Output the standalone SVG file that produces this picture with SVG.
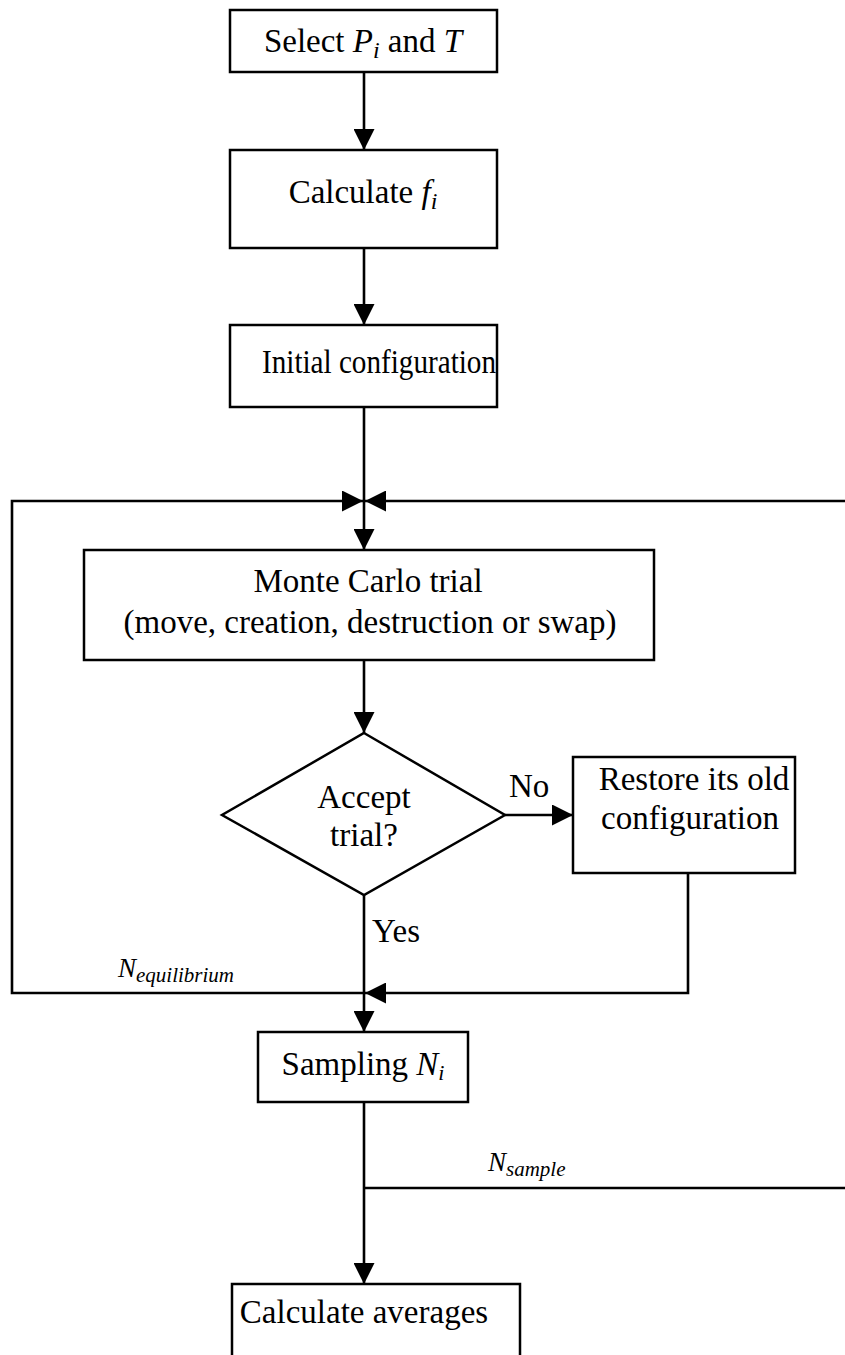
<svg xmlns="http://www.w3.org/2000/svg" width="845" height="1355" viewBox="0 0 845 1355">
<style>
.box{fill:#fff;stroke:#000;stroke-width:2.5}
.ln{fill:none;stroke:#000;stroke-width:2.6}
.t{font-family:"Liberation Serif","Times New Roman",serif;font-size:33px;fill:#000}
.lbl{font-family:"Liberation Serif","Times New Roman",serif;font-size:27px;font-style:italic;fill:#000}
.it{font-style:italic}
</style>
<defs>
<marker id="arr" markerUnits="userSpaceOnUse" markerWidth="21" markerHeight="21" viewBox="0 0 20 20" refX="20" refY="10" orient="auto">
<path d="M0,0 L20,10 L0,20 Z" fill="#000"/>
</marker>
</defs>
<rect width="845" height="1355" fill="#fff"/>
<g id="connectors">
<path class="ln" d="M364,72 V150" marker-end="url(#arr)"/>
<path class="ln" d="M364,248 V325" marker-end="url(#arr)"/>
<path class="ln" d="M364,407 V550" marker-end="url(#arr)"/>
<path class="ln" d="M364,993 H12 V501 H363" marker-end="url(#arr)"/>
<path class="ln" d="M846,501 H365" marker-end="url(#arr)"/>
<path class="ln" d="M364,660 V733" marker-end="url(#arr)"/>
<path class="ln" d="M505,815 H573" marker-end="url(#arr)"/>
<path class="ln" d="M688,873 V993 H365" marker-end="url(#arr)"/>
<path class="ln" d="M364,895 V1032" marker-end="url(#arr)"/>
<path class="ln" d="M364,1102 V1284" marker-end="url(#arr)"/>
<path class="ln" d="M364,1188 H846"/>
<text class="t" x="509" y="797">No</text>
<text class="t" x="372" y="942">Yes</text>
<text class="lbl" x="118" y="977">N<tspan font-size="21" dy="5">equilibrium</tspan></text>
<text class="lbl" x="488" y="1171">N<tspan font-size="21" dy="5">sample</tspan></text>
</g>
<g id="select">
<rect class="box" x="230" y="10" width="267" height="62"/>
<text class="t" x="363" y="52" text-anchor="middle">Select <tspan class="it">P</tspan><tspan class="it" font-size="24" dy="6">i</tspan><tspan dy="-6"> and </tspan><tspan class="it">T</tspan></text>
</g>
<g id="calcf">
<rect class="box" x="230" y="150" width="267" height="98"/>
<text class="t" x="363" y="203" text-anchor="middle">Calculate <tspan class="it">f</tspan><tspan class="it" font-size="24" dy="6">i</tspan></text>
</g>
<g id="initial">
<rect class="box" x="230" y="325" width="267" height="82"/>
<text class="t" x="262" y="373" textLength="234" lengthAdjust="spacingAndGlyphs">Initial configuration</text>
</g>
<g id="mctrial">
<rect class="box" x="84" y="550" width="570" height="110"/>
<text class="t" x="368" y="592" text-anchor="middle">Monte Carlo trial</text>
<text class="t" x="370" y="633" text-anchor="middle">(move, creation, destruction or swap)</text>
</g>
<g id="accept">
<polygon class="box" points="364,733 505,815 364,895 222,815"/>
<text class="t" x="364" y="808" text-anchor="middle">Accept</text>
<text class="t" x="364" y="846" text-anchor="middle">trial?</text>
</g>
<g id="restore">
<rect class="box" x="573" y="757" width="222" height="116"/>
<text class="t" x="694" y="790" text-anchor="middle">Restore its old</text>
<text class="t" x="690" y="829" text-anchor="middle">configuration</text>
</g>
<g id="sampling">
<rect class="box" x="258" y="1032" width="210" height="70"/>
<text class="t" x="363" y="1075" text-anchor="middle">Sampling <tspan class="it">N</tspan><tspan class="it" font-size="22" dy="5">i</tspan></text>
</g>
<g id="averages">
<rect class="box" x="232" y="1284" width="288" height="90"/>
<text class="t" x="364" y="1323" text-anchor="middle">Calculate averages</text>
</g>
</svg>
